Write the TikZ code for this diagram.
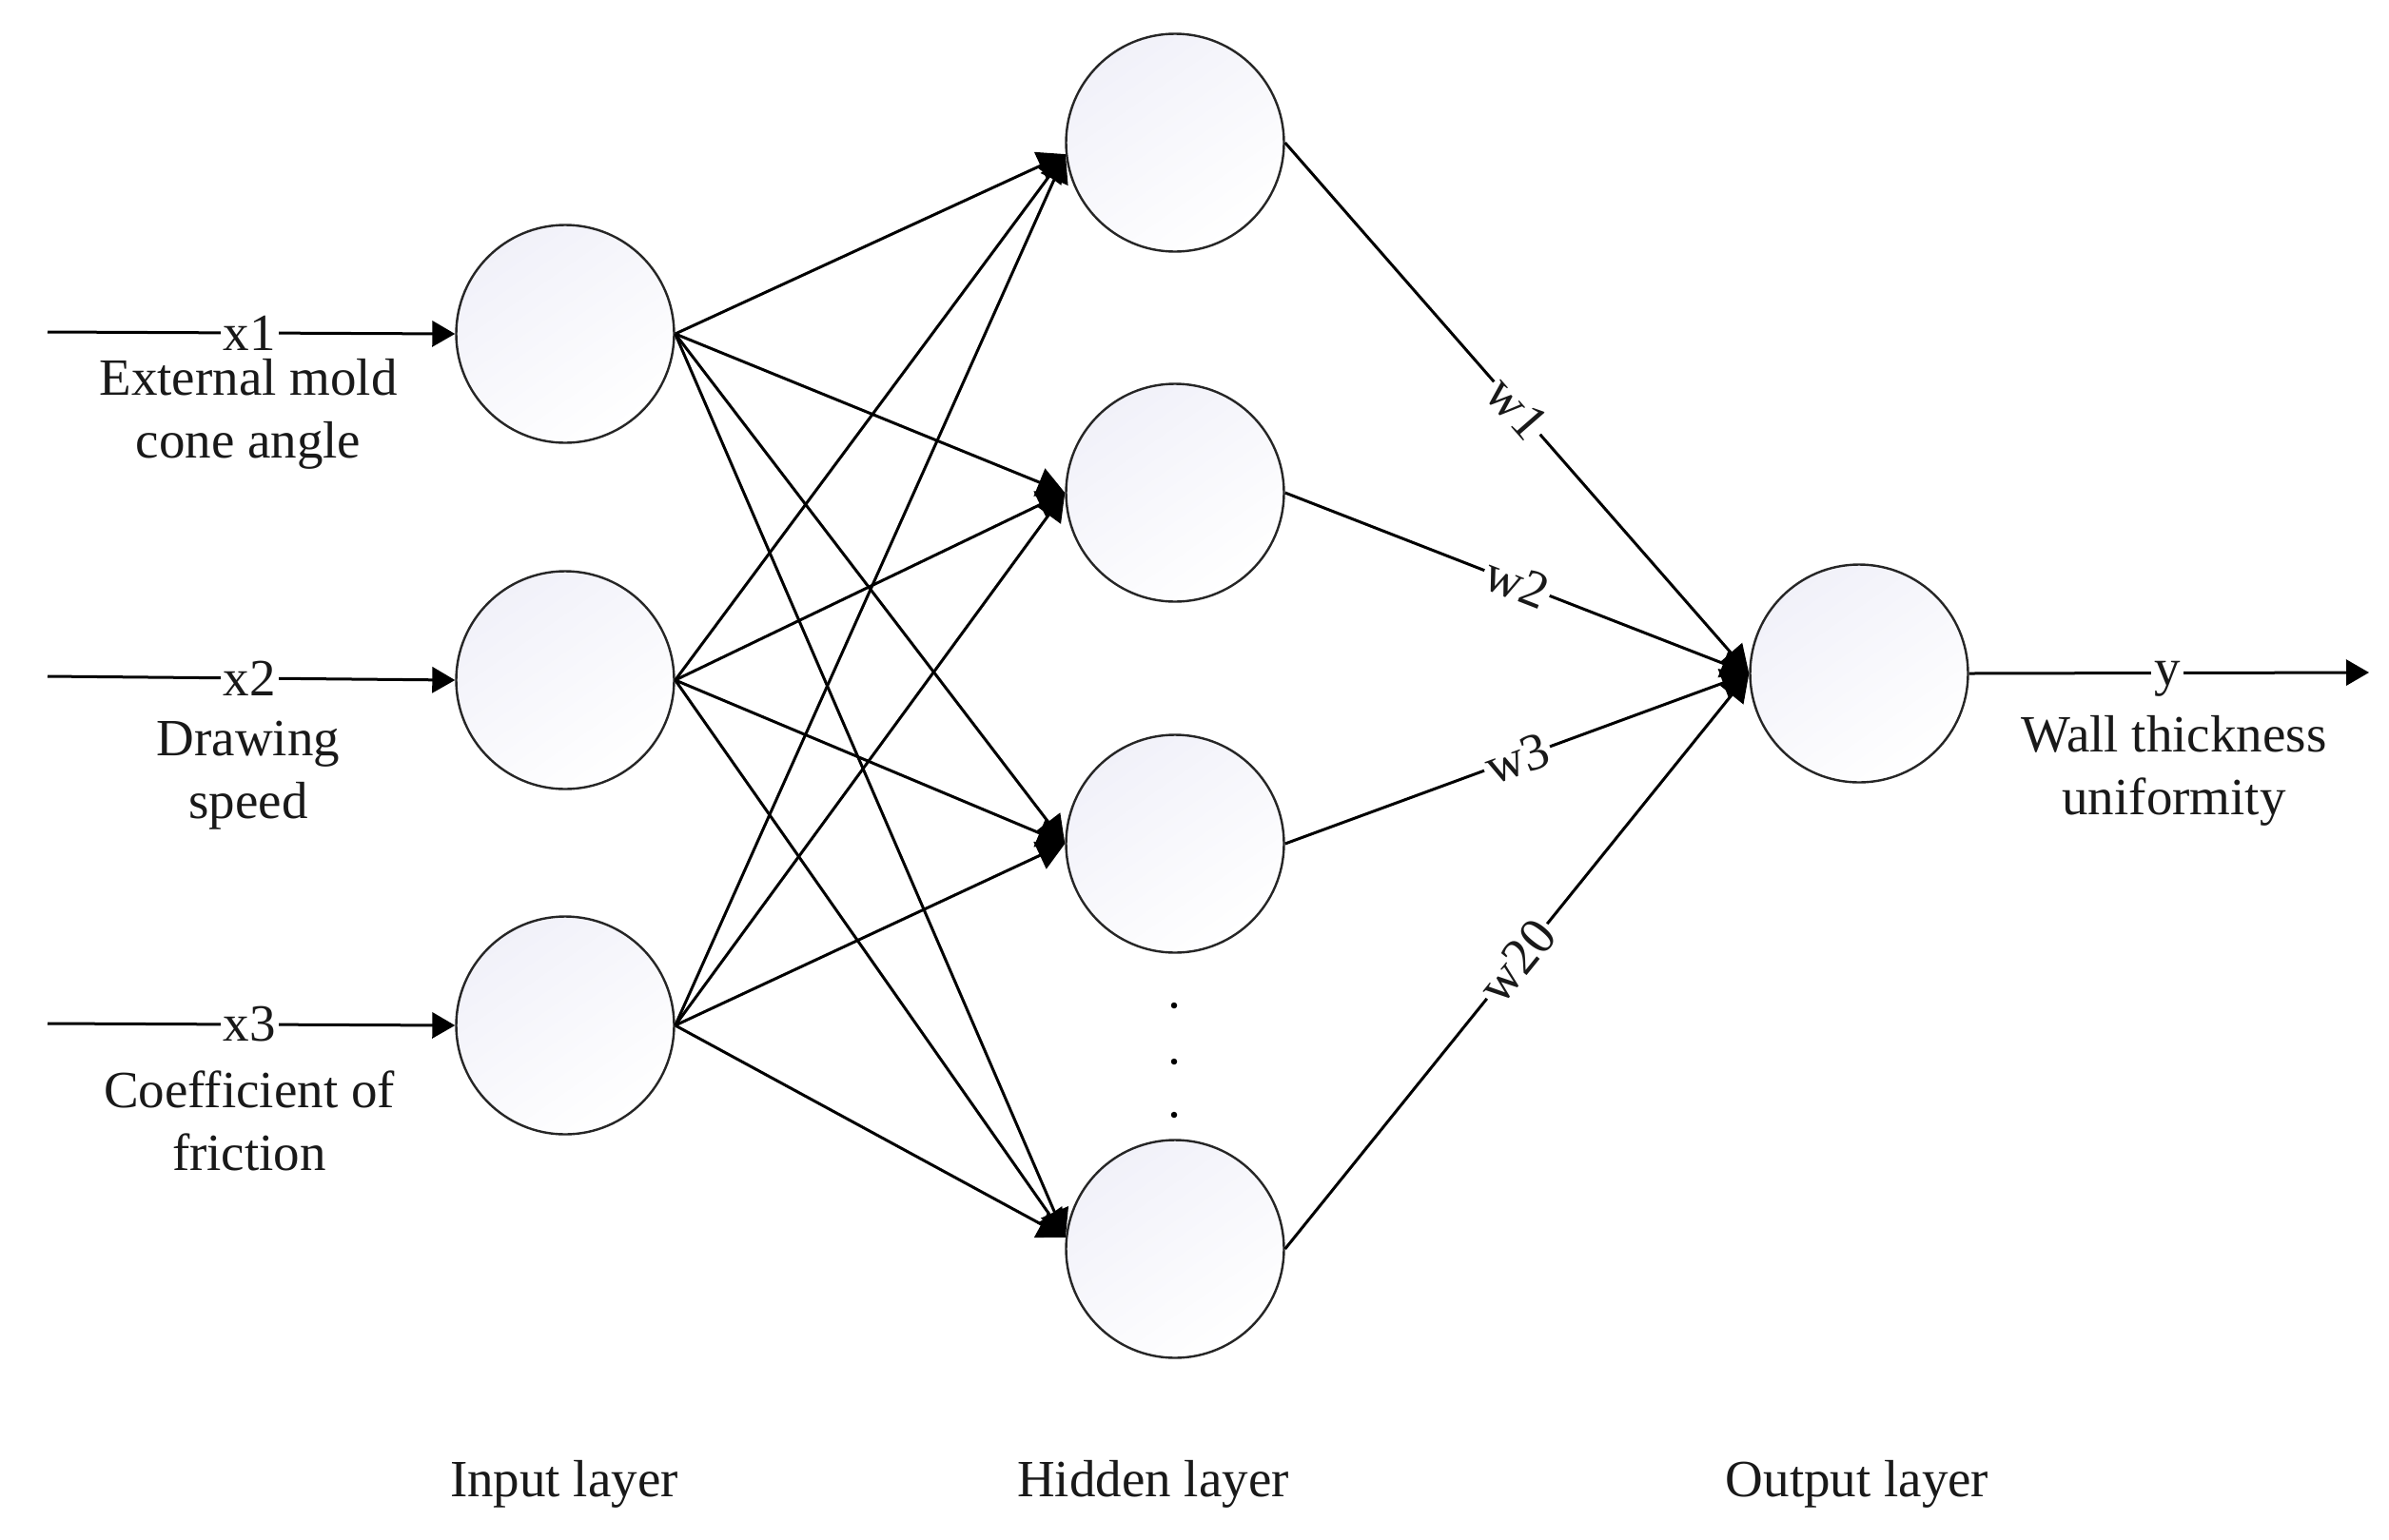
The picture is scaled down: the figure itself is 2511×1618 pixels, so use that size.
\documentclass[tikz,border=0pt]{standalone}
\usepackage{fontspec}
\setmainfont{Liberation Serif}
\usetikzlibrary{arrows.meta}
\definecolor{shadeA}{HTML}{F1F1F9}
\tikzset{
  neuron/.style={circle,draw=black!85,line width=2.4pt,minimum size=229pt,inner sep=0pt,
    top color=shadeA,bottom color=white,shading angle=35},
  link/.style={line width=3pt,black,-{Triangle[length=24pt,width=27pt]}},
  biglink/.style={line width=3pt,black,-{Triangle[length=29pt,width=31pt]}},
  txt/.style={font=\fontsize{55}{66}\selectfont,align=center,inner sep=0pt,text=black!90},
  onwire/.style={txt,fill=white,inner xsep=3pt,inner ysep=0pt},
  dotmark/.style={circle,fill=black,inner sep=0pt,minimum size=6.5pt}
}
\begin{document}
\begin{tikzpicture}[x=1pt,y=-1pt]
\useasboundingbox (0,0) rectangle (2511,1618);
% neurons
\node[neuron] (i1) at (594,351) {};
\node[neuron] (i2) at (594,715) {};
\node[neuron] (i3) at (594,1078) {};
\node[neuron] (h1) at (1235,150) {};
\node[neuron] (h2) at (1235,518) {};
\node[neuron] (h3) at (1235,887) {};
\node[neuron] (h4) at (1235,1313) {};
\node[neuron] (o) at (1954,708) {};
% free ends
\coordinate (s1) at (50,349);
\coordinate (s2) at (50,711);
\coordinate (s3) at (50,1076);
\coordinate (e) at (2490,707);
% inputs
\draw[link] (s1) -- node[onwire,pos=.495] (lx1) {x1} (i1.west);
\draw[link] (s2) -- node[onwire,pos=.495] (lx2) {x2} (i2.west);
\draw[link] (s3) -- node[onwire,pos=.495] (lx3) {x3} (i3.west);
% input to hidden
\foreach \a in {i1,i2,i3}{
  \draw[biglink] (\a.east) -- (h1.186);
  \draw[biglink] (\a.east) -- (h2.west);
  \draw[biglink] (\a.east) -- (h3.west);
  \draw[biglink] (\a.east) -- (h4.174);
}
% hidden to output
\draw[biglink] (h1.east) -- node[onwire,sloped,pos=.5] (w1) {w1} (o.west);
\draw[biglink] (h2.east) -- node[onwire,sloped,pos=.5] (w2) {w2} (o.west);
\draw[biglink] (h3.east) -- node[onwire,sloped,pos=.5] (w3) {w3} (o.west);
\draw[biglink] (h4.east) -- node[onwire,sloped,pos=.5] (w20) {w20} (o.west);
% output
\draw[link] (o.east) -- node[onwire,pos=.496,yshift=-6pt] (ly) {y} (e);
% dots
\node[dotmark] (d1) at (1234,1057) {};
\node[dotmark] (d2) at (1234,1116) {};
\node[dotmark] (d3) at (1234,1172) {};
% texts
\node[txt] (t1) at (261,435) {External mold\\cone angle};
\node[txt] (t2) at (261,815) {Drawing\\speed};
\node[txt] (t3) at (262,1178) {Coefficient of\\friction};
\node[txt] (t4) at (2285,810) {Wall thickness\\uniformity};
\node[txt] (l1) at (593,1560) {Input layer};
\node[txt] (l2) at (1212,1560) {Hidden layer};
\node[txt] (l3) at (1952,1560) {Output layer};
\end{tikzpicture}
\end{document}
